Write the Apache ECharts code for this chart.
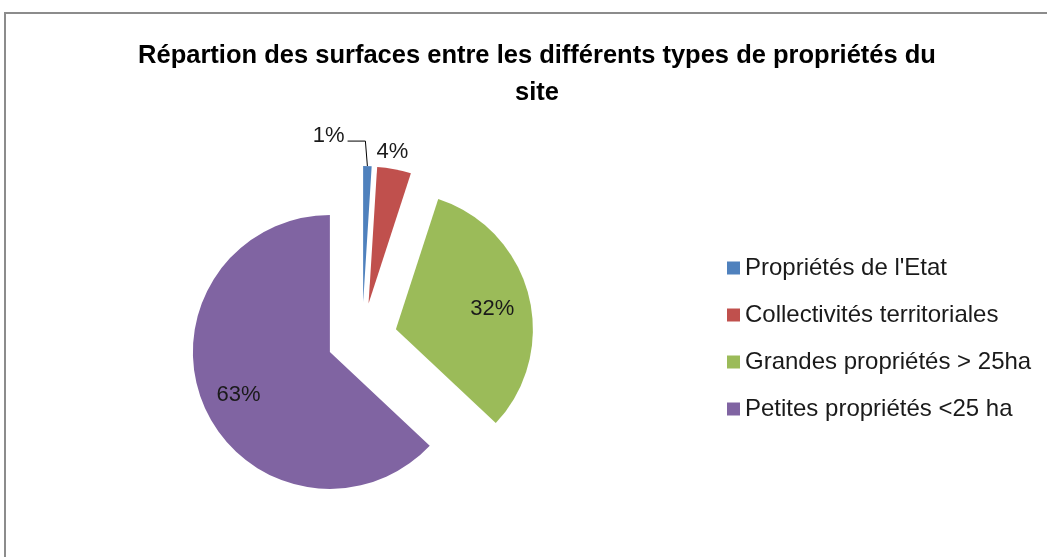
<!DOCTYPE html>
<html>
<head>
<meta charset="utf-8">
<script src="https://cdn.jsdelivr.net/npm/echarts@6/dist/echarts.min.js"></script>
<style>
  html, body { margin: 0; padding: 0; background: #fff; }
  #chart { width: 1047px; height: 557px; }
</style>
</head>
<body>
<div id="chart"></div>
<script>
var categories = ["Propriétés de l'Etat", 'Collectivités territoriales', 'Grandes propriétés > 25ha', 'Petites propriétés <25 ha'];
var values = [1, 4, 32, 63];
var colors = ['#4F81BD', '#C0504D', '#9BBB59', '#8064A2'];

var chartDom = document.getElementById('chart');
var myChart = echarts.init(chartDom);
var font = 'Liberation Sans';

var total = values.reduce(function (a, b) { return a + b; }, 0);
// angle du milieu de chaque part (depuis le haut, sens horaire)
var midAngles = [];
var acc = 0;
values.forEach(function (v) {
    midAngles.push((acc + v / 2) / total * 2 * Math.PI);
    acc += v;
});
// décalage des étiquettes extérieures (petites parts)
var outerShift = [[-68, -18], [-33, -5]];

var pieData = categories.map(function (name, i) {
    var big = values[i] > 10;
    return {
        name: name,
        value: values[i],
        selected: true,
        itemStyle: { color: colors[i] },
        label: { position: big ? 'inside' : 'outside' },
        labelLine: { show: i === 0 }
    };
});

var option = {
    backgroundColor: '#fff',
    animation: false,
    title: {
        text: "Répartion des surfaces entre les différents types de propriétés du\nsite",
        left: 532,
        top: 32,
        textAlign: 'center',
        textStyle: {
            fontFamily: font,
            fontSize: 25.5,
            fontWeight: 'bold',
            color: '#000',
            lineHeight: 37
        }
    },
    legend: {
        orient: 'vertical',
        left: 722,
        top: 251,
        itemWidth: 13,
        itemHeight: 13,
        itemGap: 23,
        icon: 'rect',
        textStyle: {
            fontFamily: font,
            fontSize: 24,
            color: '#1a1a1a'
        },
        data: categories
    },
    graphic: [{
        type: 'rect',
        shape: { x: 5, y: 13, width: 1100, height: 600 },
        style: { fill: 'none', stroke: '#8c8c8c', lineWidth: 2 },
        silent: true
    }],
    series: [{
        type: 'pie',
        center: [362, 338],
        radius: 137,
        startAngle: 90,
        clockwise: true,
        selectedMode: 'multiple',
        selectedOffset: 35,
        avoidLabelOverlap: false,
        label: {
            formatter: '{d}%',
            fontFamily: font,
            fontSize: 22,
            color: '#1a1a1a'
        },
        labelLine: {
            length: 12,
            length2: 8,
            lineStyle: { color: '#000', width: 1 }
        },
        labelLayout: function (params) {
            var i = params.dataIndex;
            var r = params.labelRect;
            if (values[i] > 10) {
                var k = 28;
                return { dx: k * Math.sin(midAngles[i]), dy: -k * Math.cos(midAngles[i]) + 4 };
            }
            var dx = outerShift[i][0], dy = outerShift[i][1];
            var out = { dx: dx, dy: dy };
            var pts = params.labelLinePoints;
            if (pts && pts.length) {
                var p0 = pts[0];
                var ly = r.y + r.height / 2 + dy + 5;
                var lx = r.x + r.width + dx + 3;
                out.labelLinePoints = [[p0[0], p0[1]], [p0[0] - 2, ly], [lx, ly]];
            }
            return out;
        },
        select: {
            itemStyle: { borderWidth: 0 },
            label: { color: '#1a1a1a' }
        },
        emphasis: { disabled: true },
        data: pieData
    }]
};
option && myChart.setOption(option);

window.addEventListener('resize', function () {
    myChart.resize();
});
</script>
</body>
</html>
